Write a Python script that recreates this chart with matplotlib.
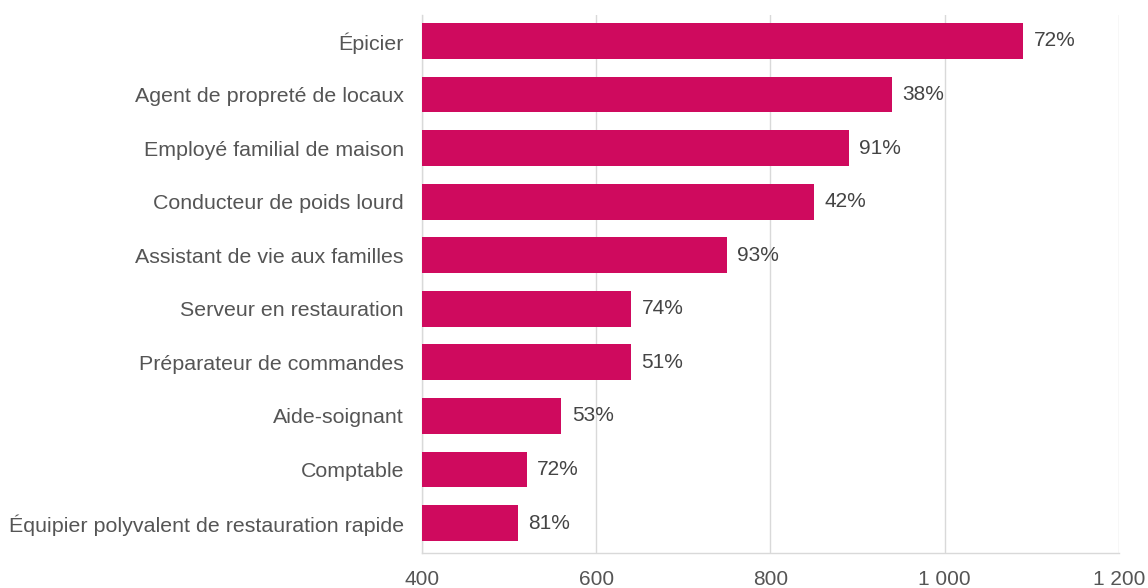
import matplotlib.pyplot as plt
from matplotlib.ticker import FuncFormatter

plt.rcParams["font.family"] = ["Liberation Sans", "DejaVu Sans"]

metiers = [
    "Épicier",
    "Agent de propreté de locaux",
    "Employé familial de maison",
    "Conducteur de poids lourd",
    "Assistant de vie aux familles",
    "Serveur en restauration",
    "Préparateur de commandes",
    "Aide-soignant",
    "Comptable",
    "Équipier polyvalent de restauration rapide",
]
valeurs = [1090, 939, 890, 850, 750, 640, 640, 560, 520, 510]
parts = ["72%", "38%", "91%", "42%", "93%", "74%", "51%", "53%", "72%", "81%"]

BAR = "#cf0a5e"
TXT = "#555555"
GRID = "#d9d9d9"

fig = plt.figure(figsize=(11.48, 5.88), dpi=100)
ax = fig.add_axes([0.3676, 0.0595, 0.6071, 0.915])

y = list(range(len(metiers)))
ax.barh(y, valeurs, height=0.67, left=0, color=BAR, zorder=3)
for yi, v, p in zip(y, valeurs, parts):
    ax.text(v + 12, yi, p, va="center", ha="left", fontsize=15, color="#444444", zorder=4)

ax.set_xlim(400, 1200)
ax.set_ylim(len(metiers) - 0.44, -0.485)
ax.set_xticks([400, 600, 800, 1000, 1200])
ax.xaxis.set_major_formatter(FuncFormatter(lambda x, _: f"{int(x):,}".replace(",", " ")))
ax.set_yticks(y)
ax.set_yticklabels(metiers)

ax.grid(axis="x", color=GRID, lw=1, zorder=0)
for s in ("top", "right"):
    ax.spines[s].set_visible(False)
for s in ("left", "bottom"):
    ax.spines[s].set_color(GRID)
    ax.spines[s].set_linewidth(1)
ax.tick_params(axis="both", length=0)
ax.tick_params(axis="y", labelsize=15.4, labelcolor=TXT, pad=13)
ax.tick_params(axis="x", labelsize=15, labelcolor=TXT, pad=12)

fig.savefig("out.png", dpi=100)
